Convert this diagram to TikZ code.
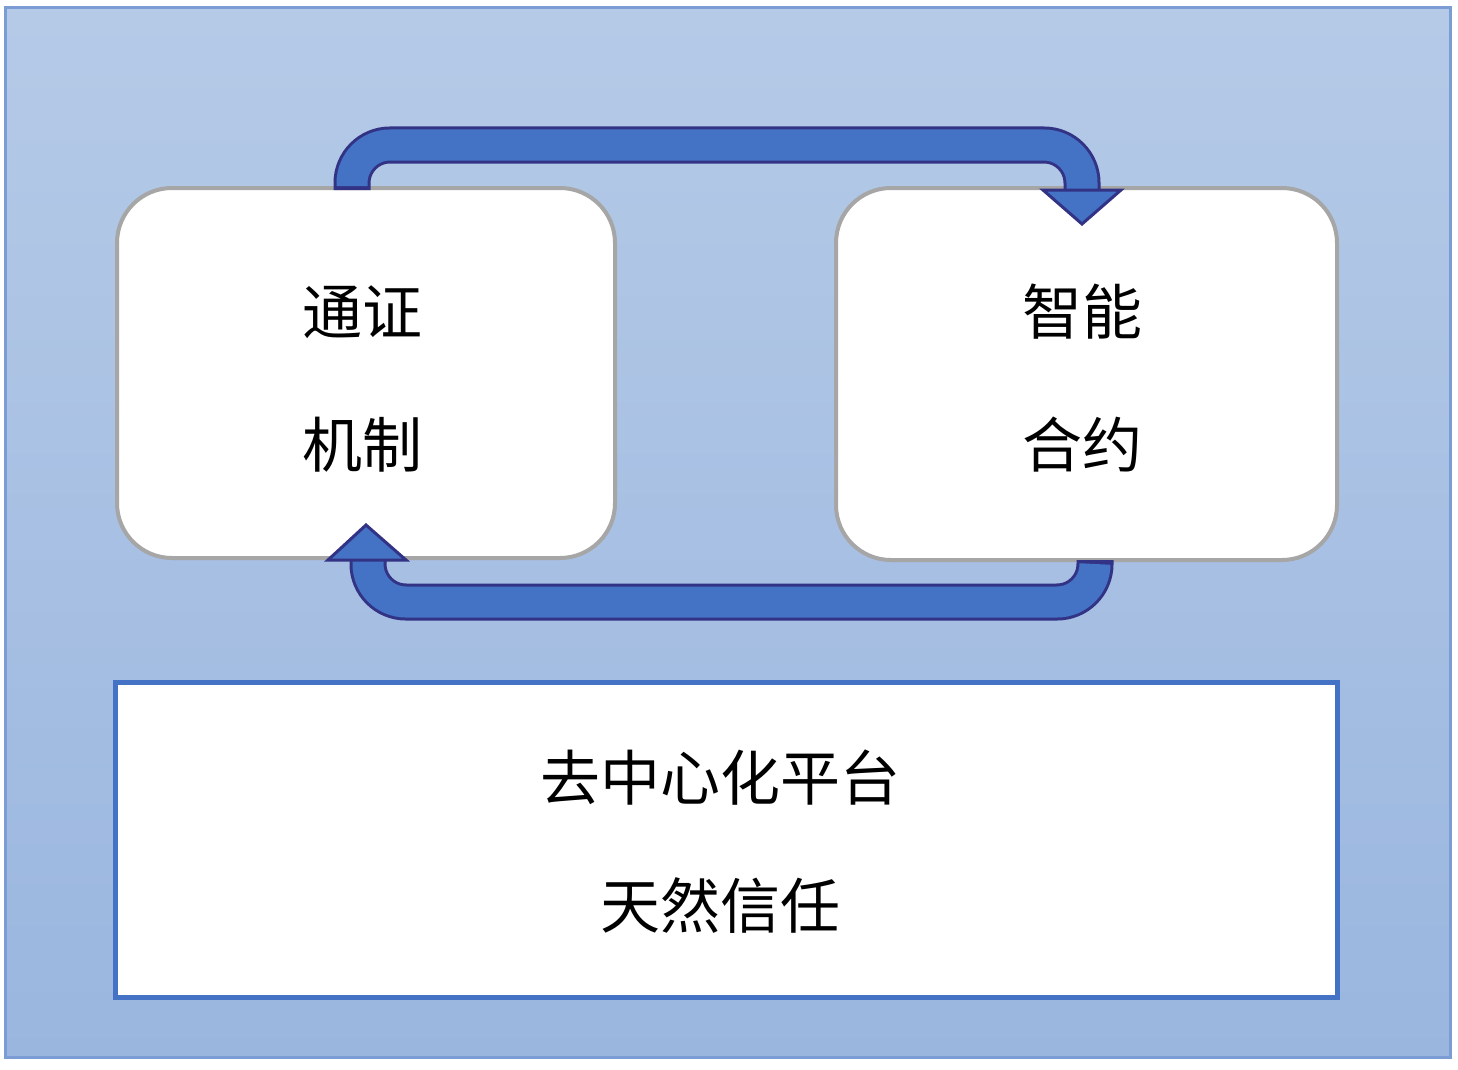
\documentclass[tikz,border=0pt]{standalone}
\usepackage{fontspec}
\newfontfamily\cjk{Noto Sans CJK SC}
\begin{document}
\begin{tikzpicture}[x=1pt,y=-1pt,
  rbox/.style={draw=gray!70,line width=4pt,fill=white,rounded corners=55pt},
  lbl/.style={font=\cjk\fontsize{60}{60}\selectfont,text=black},
  band/.style={line width=37pt,draw=blue!40!black!80,rounded corners=38pt},
  bandin/.style={line width=31pt,draw=arrowblue,rounded corners=38pt},
  head/.style={fill=arrowblue,draw=blue!40!black!80,line width=3pt,line join=miter}]
\definecolor{arrowblue}{HTML}{4472C4}
\definecolor{topc}{HTML}{B5CAE7}
\definecolor{botc}{HTML}{9AB6DF}
\useasboundingbox (0,0) rectangle (1458,1070);
\fill[white] (0,0) rectangle (1458,1070);
\shade[top color=topc,bottom color=botc,draw=none] (5,8) rectangle (1450,1057);
\draw[draw=arrowblue!70,line width=3pt] (5,8) rectangle (1450,1057);
\draw[rbox] (117,188) rectangle (615,558) node[pos=.5] (L) {};
\draw[rbox] (836,188) rectangle (1337,560) node[pos=.5] (R) {};
\draw[draw=arrowblue,line width=5pt,fill=white] (115,682) rectangle (1337,997);
\node[lbl] (t1) at (362,312) {通证};
\node[lbl] (t2) at (362,445) {机制};
\node[lbl] (t3) at (1082,312) {智能};
\node[lbl] (t4) at (1082,445) {合约};
\node[lbl] (b1) at (720,778) {去中心化平台};
\node[lbl] (b2) at (720,906) {天然信任};
% top arrow
\coordinate (a1) at (352,190);
\coordinate (a2) at (1082,192);
\draw[band] (a1) -- (352,145) -- (1082,145) -- (a2);
\draw[bandin] (352,186) -- (352,145) -- (1082,145) -- (a2);
\draw[head] (1043,190) -- (1121,190) -- (1082,224) -- cycle;
% bottom arrow
\coordinate (c1) at (1095,560);
\coordinate (c2) at (368,560);
\draw[band] (c1) -- (1095,602) -- (368,602) -- (c2);
\draw[bandin] (1095,564) -- (1095,602) -- (368,602) -- (c2);
\draw[head] (328,560) -- (406,560) -- (366,525) -- cycle;
\end{tikzpicture}
\end{document}
